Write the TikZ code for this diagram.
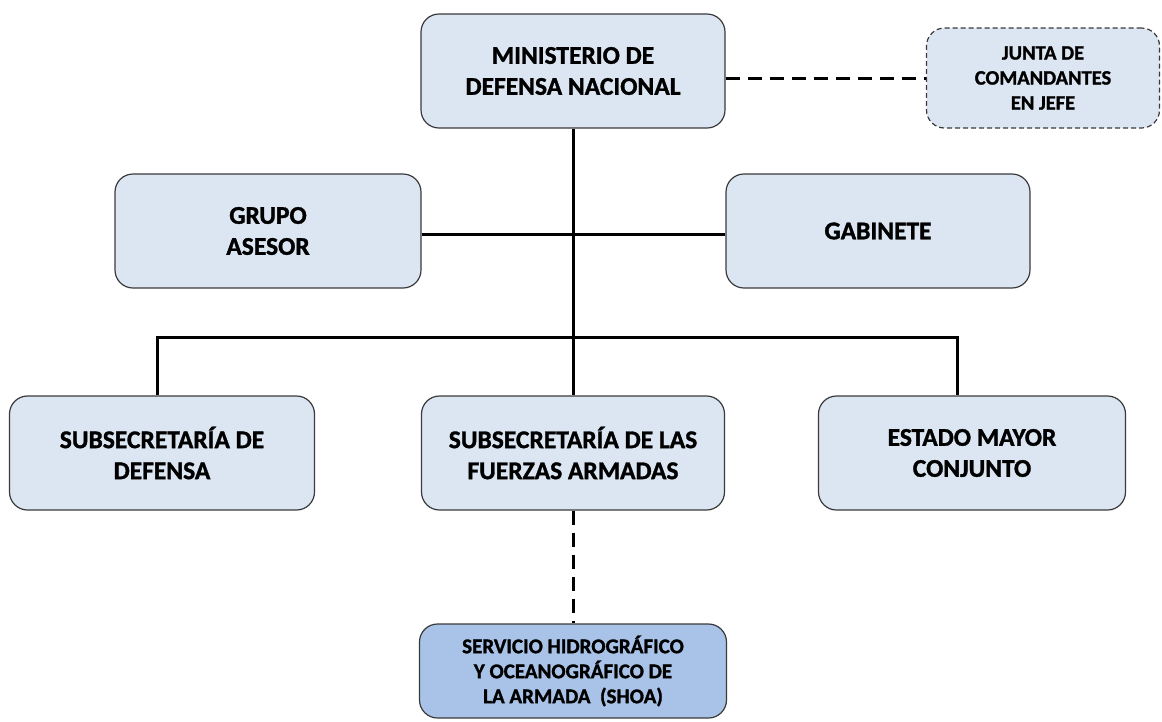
\documentclass[tikz,border=0pt]{standalone}
\usepackage{fontspec}
\setmainfont{Carlito}[BoldFeatures={FakeBold=1.3}]
\usetikzlibrary{shapes,positioning,calc}

\definecolor{boxfill}{HTML}{DCE6F2}
\definecolor{shoafill}{HTML}{A8C3E7}
\definecolor{boxline}{HTML}{3A3A3A}

\begin{document}
\begin{tikzpicture}[
      x=1pt, y=-1pt,
      unit/.style = {rectangle, rounded corners=18pt, draw=boxline, line width=1.2pt,
                     fill=boxfill, align=center, inner sep=0pt,
                     font=\fontsize{25.5}{31}\selectfont\bfseries},
      big/.style = {unit, minimum width=304pt, minimum height=114pt},
      side/.style = {unit, dashed, dash pattern=on 5pt off 3pt,
                     minimum width=233pt, minimum height=100pt,
                     font=\fontsize{20.5}{25}\selectfont\bfseries},
      shoa/.style = {unit, fill=shoafill, minimum width=307pt, minimum height=94pt,
                     font=\fontsize{21}{25}\selectfont\bfseries},
      link/.style = {line width=3pt},
      dotlink/.style = {line width=3pt, dash pattern=on 14pt off 8pt}
      ]
      \useasboundingbox (0,0) rectangle (1162,721);

      \node[big] (min) at (573,71) {MINISTERIO DE\\DEFENSA NACIONAL};
      \node[side] (junta) at (1043,78) {JUNTA DE\\COMANDANTES\\EN JEFE};
      \node[big, minimum width=306pt] (grupo) at (268,231) {GRUPO\\ASESOR};
      \node[big] (gab) at (878,231) {GABINETE};
      \node[big, minimum width=305pt] (subdef) at (162,453) {SUBSECRETARÍA DE\\DEFENSA};
      \node[big, minimum width=303pt] (subffaa) at (573,453) {SUBSECRETARÍA DE LAS\\FUERZAS ARMADAS};
      \node[big, minimum width=307pt] (emc) at (972,453) {ESTADO MAYOR\\CONJUNTO};
      \node[shoa] (shoa) at (573,671) {SERVICIO HIDROGRÁFICO\\Y OCEANOGRÁFICO DE\\LA ARMADA~ (SHOA)};

      % bus to the three subsecretarias
      \coordinate (busl) at (157,337);
      \coordinate (busr) at (957,337);

      \draw[link] (min.south) -- (subffaa.north);
      \draw[link] ($(grupo.east)+(0,3)$) -- ($(gab.west)+(0,3)$);
      \draw[link] (subdef.north -| busl) -- (busl) -- (busr) -- (emc.north -| busr);
      \draw[dotlink] (min.east |- junta.west) -- (junta.west);
      \draw[dotlink] (subffaa.south) -- (shoa.north);
    \end{tikzpicture}
\end{document}
